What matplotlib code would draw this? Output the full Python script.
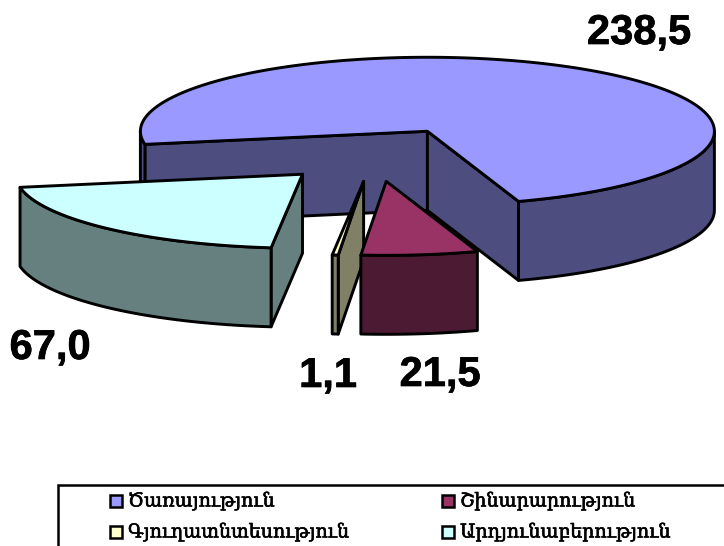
import numpy as np
import matplotlib
matplotlib.use('Agg')
import matplotlib.pyplot as plt
import matplotlib.patheffects as pe
from matplotlib.patches import Polygon, Rectangle

categories = ['Ծառայություն', 'Շինարարություն', 'Գյուղատնտեսություն', 'Արդյունաբերություն']
values = [238.5, 21.5, 1.1, 67.0]
top_colors = ['#9999FF', '#993366', '#FFFFCC', '#CCFFFF']
side_colors = ['#4D4D80', '#4D1A33', '#808066', '#668080']

# pie geometry, in pixels of the picture
CX, CY = 374.0, 154.5
RX, RY = 287.0, 74.0
DEPTH = 79.0
EXPLODE = 0.365
START = 190.2
LW = 2.1


def project(cx, cy, ang, r=1.0):
    rad = np.radians(ang)
    return cx + RX * r * np.cos(rad), cy - RY * r * np.sin(rad)


def add_poly(ax, pts, color):
    ax.add_patch(Polygon(pts, closed=True, facecolor=color, edgecolor='black',
                         linewidth=LW, joinstyle='round'))


def arc(cx, cy, a0, a1):
    n = max(int(abs(a1 - a0)), 2) + 1
    x, y = project(cx, cy, np.linspace(a0, a1, n))
    return np.column_stack([x, y])


def draw_wedge(ax, a_start, a_end, top, side):
    mid = (a_start + a_end) / 2
    cx, cy = project(CX, CY, mid, EXPLODE)

    # walls facing the viewer
    for ang, normal in ((a_start, a_start + 90), (a_end, a_end - 90)):
        if np.sin(np.radians(normal)) < 0:
            ox, oy = project(cx, cy, ang)
            add_poly(ax, [(cx, cy), (ox, oy), (ox, oy + DEPTH), (cx, cy + DEPTH)], side)

    # front part of the rim
    for k in (-1, 0, 1):
        lo = max(a_end, -180 + 360 * k)
        hi = min(a_start, 360 * k)
        if lo < hi:
            upper = arc(cx, cy, hi, lo)
            lower = upper[::-1] + [0, DEPTH]
            add_poly(ax, np.vstack([upper, lower]), side)

    add_poly(ax, np.vstack([[(cx, cy)], arc(cx, cy, a_start, a_end)]), top)


fig = plt.figure(figsize=(7.24, 5.46), dpi=100)
ax = fig.add_axes([0, 0, 1, 1])
ax.set_xlim(0, 724)
ax.set_ylim(546, 0)
ax.axis('off')

sweeps = np.array(values) / sum(values) * 360
starts = START - np.concatenate([[0], np.cumsum(sweeps)[:-1]])
ends = starts - sweeps

# back to front
for i in (0, 3, 2, 1):
    draw_wedge(ax, starts[i], ends[i], top_colors[i], side_colors[i])

# data labels
label_pos = [(639, 33), (440, 375), (328, 376), (50, 348)]
for v, (x, y) in zip(values, label_pos):
    ax.text(x, y, f'{v:.1f}'.replace('.', ','), ha='center', va='center',
            fontsize=30, fontweight='bold', family='Liberation Sans',
            path_effects=[pe.withStroke(linewidth=0.5, foreground='black')])

# legend, cut off by the picture edge
ax.add_patch(Rectangle((58, 485), 700, 100, facecolor='white', edgecolor='black', linewidth=1.8))
col_x = [110, 442]
row_y = [501, 532]
for i, name in enumerate(categories):
    x = col_x[i % 2]
    y = row_y[i // 2]
    ax.add_patch(Rectangle((x, y - 6), 12, 12, facecolor=top_colors[i], edgecolor='black', linewidth=1.8))
    ax.text(x + 18, y, name, ha='left', va='center', fontsize=13.7,
            family=['DejaVu Serif', 'DejaVu Sans'],
            path_effects=[pe.withStroke(linewidth=0.45, foreground='black')])

fig.savefig('out.png', dpi=100)
